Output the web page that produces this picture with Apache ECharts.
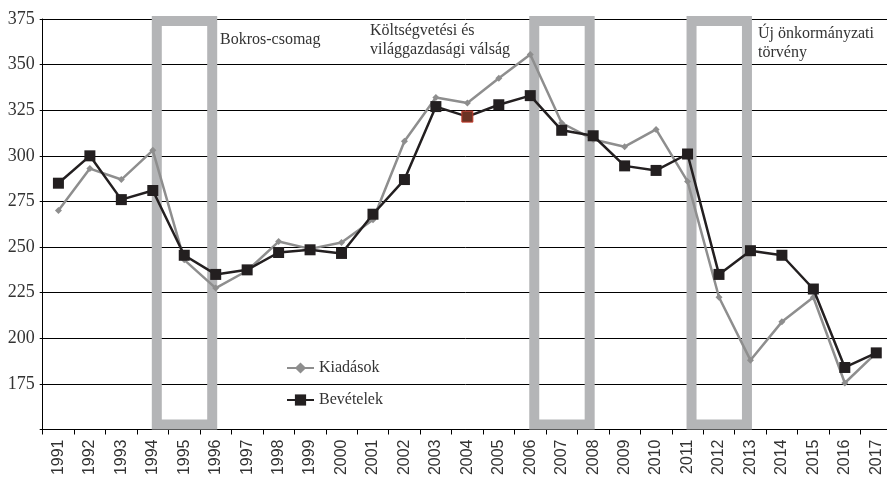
<!DOCTYPE html>
<html>
<head>
<meta charset="utf-8">
<script src="https://cdn.jsdelivr.net/npm/echarts@6/dist/echarts.min.js"></script>
<style>
html,body{margin:0;padding:0;background:#fff;overflow:hidden;}
#chart{width:887px;height:477px;}
</style>
</head>
<body>
<div id="chart"></div>
<script>
const years = ['1991','1992','1993','1994','1995','1996','1997','1998','1999','2000','2001','2002','2003','2004','2005','2006','2007','2008','2009','2010','2011','2012','2013','2014','2015','2016','2017'];
const kiadasok = [270, 293, 287, 303, 243, 227.5, 237, 253, 249, 252.5, 265, 308, 332, 329, 342.5, 355.5, 318, 309, 305, 314.5, 286, 222.5, 188, 209, 222.5, 175.5, 192];
const bevetelek = [285, 300, 276, 281, 245.5, 235, 237.5, 247, 248.5, 246.5, 268, 287, 327, 321.5, 328, 333, 314, 311, 294.5, 292, 301, 235, 248, 245.5, 227, 184, 192];
const yTicks = [150, 175, 200, 225, 250, 275, 300, 325, 350, 375];
// periods marked with grey boxes: [start year, end year]
const periods = [['1994','1996'], ['2006','2008'], ['2011','2013']];
const seriesNames = ['Kiadások', 'Bevételek'];

const serif = 'Liberation Serif';
const textColor = '#333';
const boxGrey = '#b4b5b7';

const chart = echarts.init(document.getElementById('chart'), null, {renderer: 'canvas'});

const bevData = bevetelek.map((v, i) => years[i] === '2004'
  ? {value: v, itemStyle: {color: '#6b3324', borderColor: '#c43a2a', borderWidth: 1}}
  : v);

chart.setOption({
  animation: false,
  backgroundColor: '#fff',
  grid: {left: 42.7, width: 849.3, top: 19, bottom: 47.5, containLabel: false, outerBoundsMode: 'none'},
  legend: {
    orient: 'vertical',
    left: 281, top: 355,
    itemWidth: 27, itemHeight: 14, itemGap: 16,
    textStyle: {fontFamily: serif, fontSize: 16, color: textColor},
    data: seriesNames
  },
  xAxis: {
    type: 'category',
    data: years,
    boundaryGap: true,
    axisLine: {show: true, lineStyle: {color: '#000', width: 1}},
    axisTick: {show: true, length: 5, lineStyle: {color: '#000'}},
    axisLabel: {rotate: 90, margin: 10, fontFamily: 'Liberation Sans', fontSize: 16, color: textColor, interval: 0}
  },
  yAxis: {
    type: 'value',
    min: yTicks[0], max: yTicks[yTicks.length-1], interval: 25,
    axisLine: {show: true, lineStyle: {color: '#000', width: 1}},
    axisTick: {show: true, length: 3, lineStyle: {color: '#000'}},
    splitLine: {show: true, lineStyle: {color: '#000', width: 1}},
    axisLabel: {margin: 8, fontFamily: serif, fontSize: 18, color: textColor,
      formatter: v => v === yTicks[0] ? '' : String(v)}
  },
  graphic: [
    {type: 'text', left: 220, top: 32, style: {text: 'Bokros-csomag', font: '16px "Liberation Serif"', fill: textColor}},
    {type: 'text', right: 887-510, top: 22, style: {text: 'Költségvetési és\nvilággazdasági válság', font: '16px "Liberation Serif"', fill: textColor, align: 'right', lineHeight: 18.5}},
    {type: 'text', left: 758, top: 25, style: {text: 'Új önkormányzati\ntörvény', font: '16px "Liberation Serif"', fill: textColor, lineHeight: 18.5}}
  ],
  series: [
    {
      type: 'custom',
      name: 'periods',
      z: 1,
      silent: true,
      data: periods.map(p => [years.indexOf(p[0]), years.indexOf(p[1])]),
      encode: {x: [0, 1]},
      renderItem: function (params, api) {
        const bw = 10;
        const p1 = api.coord([api.value(0), yTicks[yTicks.length-1]]);
        const p2 = api.coord([api.value(1), yTicks[0]]);
        const x0 = p1[0] - 1 + bw/2;
        const x1 = p2[0] + 1.5 - bw/2;
        const y0 = p1[1] - 3 + bw/2;
        const y1 = p2[1] - bw/2;
        return {
          type: 'rect',
          shape: {x: x0, y: y0, width: x1 - x0, height: y1 - y0},
          style: {fill: 'none', stroke: boxGrey, lineWidth: bw}
        };
      }
    },
    {
      name: seriesNames[0],
      type: 'line',
      z: 3,
      data: kiadasok,
      symbol: 'diamond',
      symbolSize: 7,
      color: '#8e8e8e',
      lineStyle: {color: '#8e8e8e', width: 2.5},
      itemStyle: {color: '#8e8e8e'}
    },
    {
      name: seriesNames[1],
      type: 'line',
      z: 4,
      data: bevData,
      symbol: 'rect',
      symbolSize: 11,
      color: '#231f20',
      lineStyle: {color: '#231f20', width: 2.5},
      itemStyle: {color: '#231f20'}
    }
  ]
});
</script>
</body>
</html>
